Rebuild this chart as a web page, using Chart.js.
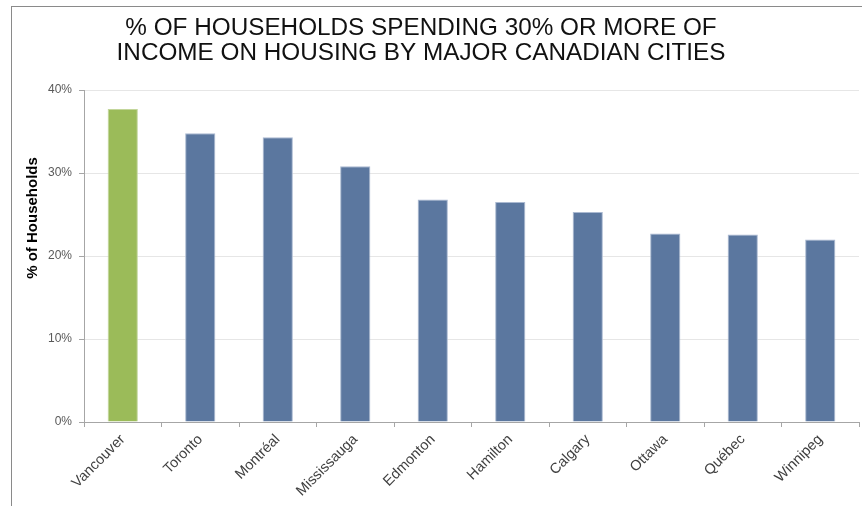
<!DOCTYPE html>
<html>
<head>
<meta charset="utf-8">
<script src="https://cdn.jsdelivr.net/npm/chart.js@4"></script>
<style>
    html, body { margin: 0; padding: 0; background: #fff; }
    #wrap { position: relative; width: 862px; height: 506px; }
    #frame {
        position: absolute; left: 11px; top: 6px; right: 0; bottom: 0;
        border-left: 1px solid #8a8a8a; border-top: 1px solid #8a8a8a;
        pointer-events: none;
    }
</style>
</head>
<body>
<div id="wrap">
    <canvas id="myChart" width="862" height="506"></canvas>
    <div id="frame"></div>
</div>
<script>
// 도시별 주거비 부담 가구 비율
const cities = ['Vancouver', 'Toronto', 'Montréal', 'Mississauga', 'Edmonton',
    'Hamilton', 'Calgary', 'Ottawa', 'Québec', 'Winnipeg'];
const shares = [37.7, 34.8, 34.3, 30.8, 26.8, 26.5, 25.3, 22.7, 22.6, 22.0];
const yTicks = [0, 10, 20, 30, 40];
const titleLines = ['% OF HOUSEHOLDS SPENDING 30% OR MORE OF',
    'INCOME ON HOUSING BY MAJOR CANADIAN CITIES'];
const yTitle = '% of Households';

const barColors = cities.map((c, i) => i === 0 ? '#9bbb59' : '#5b779f');
const barEdges = cities.map((c, i) => i === 0 ? '#c3d69b' : '#aab9d1');

// 제목, y축 제목 그리기
const textPlugin = {
    id: 'texts',
    afterDraw(chart) {
        const ctx = chart.ctx;
        ctx.save();
        ctx.fillStyle = '#111';
        ctx.textAlign = 'center';
        ctx.textBaseline = 'alphabetic';
        ctx.font = '24.3px "Liberation Sans", Arial, sans-serif';
        ctx.fillText(titleLines[0], 421, 35);
        ctx.fillText(titleLines[1], 421, 60);

        ctx.translate(37, 218);
        ctx.rotate(-Math.PI / 2);
        ctx.font = 'bold 15px "Liberation Sans", Arial, sans-serif';
        ctx.fillStyle = '#000';
        ctx.fillText(yTitle, 0, 0);
        ctx.restore();
    }
};

const myChart = new Chart(document.getElementById('myChart'), {
    type: 'bar',
    data: {
        labels: cities,
        datasets: [{
            data: shares,
            backgroundColor: barColors,
            borderColor: barEdges,
            borderWidth: 1,
            barPercentage: 0.39,
            categoryPercentage: 1
        }]
    },
    options: {
        responsive: false,
        animation: false,
        layout: { padding: { left: 0, top: 90, right: 3, bottom: 0 } },
        plugins: {
            legend: { display: false },
            tooltip: { enabled: false }
        },
        scales: {
            x: {
                afterFit: s => { s.height = 84; },
                grid: {
                    drawOnChartArea: false,
                    color: '#a6a6a6',
                    tickLength: 5
                },
                border: { color: '#a6a6a6' },
                ticks: {
                    minRotation: 45,
                    maxRotation: 45,
                    padding: 4,
                    color: '#404040',
                    font: { family: '"Liberation Sans", Arial, sans-serif', size: 14.5 }
                }
            },
            y: {
                min: 0,
                max: 40,
                afterFit: s => { s.width = 84; },
                afterBuildTicks: s => { s.ticks = yTicks.map(v => ({ value: v })); },
                grid: {
                    color: '#e6e6e6',
                    tickColor: '#a6a6a6',
                    tickLength: 5
                },
                border: { color: '#a6a6a6' },
                ticks: {
                    padding: 7,
                    color: '#595959',
                    font: { family: '"Liberation Sans", Arial, sans-serif', size: 12 },
                    callback: v => v + '%'
                }
            }
        }
    },
    plugins: [textPlugin]
});
</script>
</body>
</html>
